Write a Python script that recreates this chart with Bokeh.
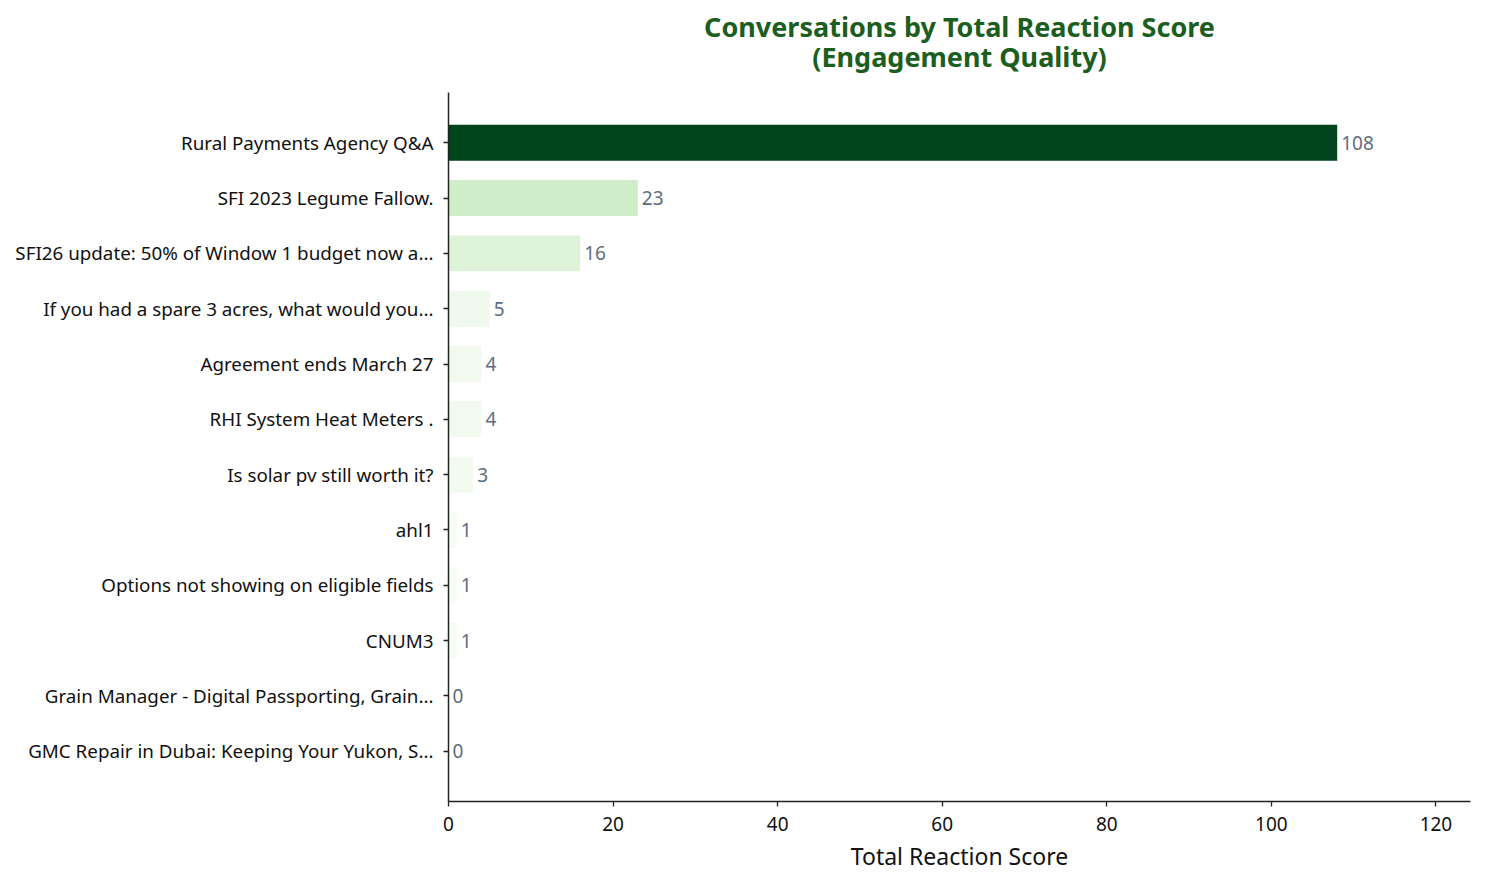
from bokeh.plotting import figure
from bokeh.models import ColumnDataSource, Range1d, FixedTicker, Title
from bokeh.core.properties import value
from bokeh.palettes import Greens9
from bokeh.embed import file_html
from bokeh.resources import INLINE

# data (top to bottom)
topics = [
    "Rural Payments Agency Q&A",
    "SFI 2023 Legume Fallow.",
    "SFI26 update: 50% of Window 1 budget now a...",
    "If you had a spare 3 acres, what would you...",
    "Agreement ends March 27",
    "RHI System Heat Meters .",
    "Is solar pv still worth it?",
    "ahl1",
    "Options not showing on eligible fields",
    "CNUM3",
    "Grain Manager - Digital Passporting, Grain...",
    "GMC Repair in Dubai: Keeping Your Yukon, S...",
]
scores = [108, 23, 16, 5, 4, 4, 3, 1, 1, 1, 0, 0]
x_ticks = [0, 20, 40, 60, 80, 100, 120]
title_lines = ["Conversations by Total Reaction Score", "(Engagement Quality)"]

FONT = "Noto Sans"

# matplotlib-style "Greens" colormap, linear between the 9 anchor colours
anchors = list(reversed(Greens9))


def greens(t):
    t = min(max(t, 0.0), 1.0) * (len(anchors) - 1)
    i = min(int(t), len(anchors) - 2)
    f = t - i
    a = anchors[i]
    b = anchors[i + 1]
    rgb = []
    for k in (1, 3, 5):
        ca = int(a[k:k + 2], 16)
        cb = int(b[k:k + 2], 16)
        rgb.append(round(ca + (cb - ca) * f))
    return "#%02x%02x%02x" % tuple(rgb)


top = max(scores)
colors = [greens(s / top) for s in scores]
pos = list(range(len(topics)))

src = ColumnDataSource(data=dict(
    y=pos, score=scores, color=colors, label=[str(s) for s in scores]
))

p = figure(
    width=1477, height=877,
    x_range=Range1d(0, top * 1.15),
    y_range=Range1d(len(topics) - 1 + 0.9075, -0.9075),
    output_backend="svg", toolbar_location=None,
    min_border_left=448, min_border_right=7,
    min_border_top=92, min_border_bottom=76,
)
p.outline_line_color = None
p.grid.visible = False

# two centred title lines; the one added last sits on top
p.add_layout(Title(text=title_lines[1], align="center", text_font=FONT,
                   text_font_size="27px", text_font_style="bold",
                   text_color="#1b5e20", standoff=36), "above")
p.add_layout(Title(text=title_lines[0], align="center", text_font=FONT,
                   text_font_size="27px", text_font_style="bold",
                   text_color="#1b5e20", standoff=-54), "above")

p.hbar(y="y", right="score", left=0, height=0.65, color="color",
       line_color=None, source=src)

p.text(x="score", y="y", text="label", source=src, x_offset=4,
       text_baseline="middle", text_align="left",
       text_font=value(FONT), text_font_size="19px", text_color="#5d6d7e")

xa = p.xaxis[0]
xa.ticker = FixedTicker(ticks=x_ticks)
xa.axis_label = "Total Reaction Score"
xa.axis_label_text_font = FONT
xa.axis_label_text_font_size = "23px"
xa.axis_label_text_font_style = "normal"
xa.axis_label_text_color = "#111111"
xa.axis_label_standoff = 6
xa.major_label_text_font = FONT
xa.major_label_text_font_size = "19px"
xa.major_label_text_color = "#111111"
xa.major_label_standoff = 10

ya = p.yaxis[0]
ya.ticker = FixedTicker(ticks=pos)
ya.major_label_overrides = {i: t for i, t in enumerate(topics)}
ya.major_label_text_font = FONT
ya.major_label_text_font_size = "18.8px"
ya.major_label_text_color = "#111111"
ya.major_label_standoff = 10

for ax in (xa, ya):
    ax.axis_line_color = "#222222"
    ax.axis_line_width = 1.5
    ax.major_tick_line_color = "#222222"
    ax.major_tick_line_width = 1.3
    ax.major_tick_out = 5
    ax.major_tick_in = 0
    ax.minor_tick_line_color = None

open("out.html", "w").write(file_html(p, INLINE))
